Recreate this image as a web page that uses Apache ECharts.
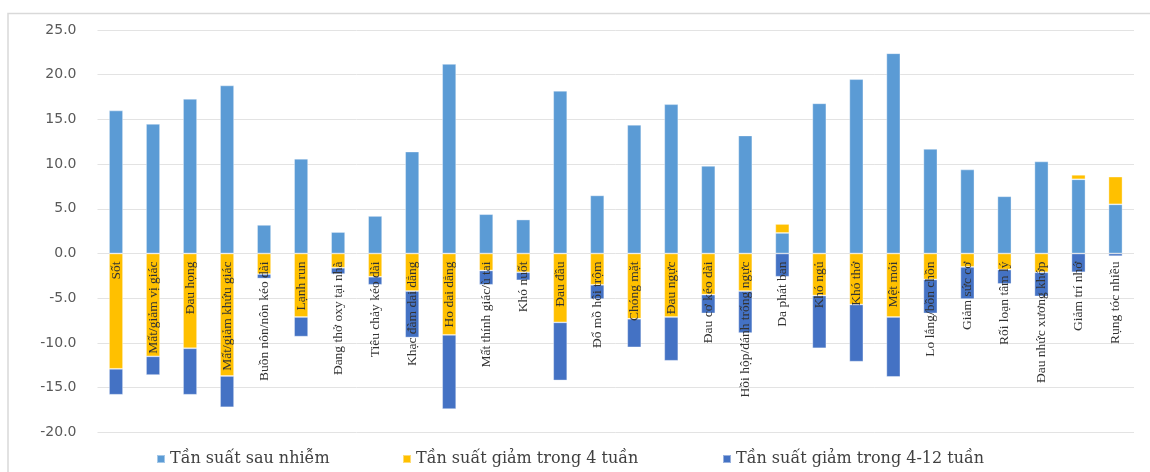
<!DOCTYPE html>
<html>
<head>
<meta charset="utf-8">
<script src="https://cdn.jsdelivr.net/npm/echarts@6/dist/echarts.min.js"></script>
<style>html,body{margin:0;padding:0;background:#fff;}#c{width:1150px;height:472px;}</style>
</head>
<body>
<div id="c"></div>
<script>
const categories = ["Sốt","Mất/giảm vị giác","Đau họng","Mất/giảm khứu giác","Buồn nôn/nôn kéo dài","Lạnh run","Đang thở oxy tại nhà","Tiêu chảy kéo dài","Khạc đàm dai dẳng","Ho dai dẳng","Mất thính giác/ù tai","Khó nuốt","Đau đầu","Đổ mồ hôi trộm","Chóng mặt","Đau ngực","Đau cơ kéo dài","Hồi hộp/đánh trống ngực","Da phát ban","Khó ngủ","Khó thở","Mệt mỏi","Lo lắng/bồn chồn","Giảm sức cơ","Rối loạn tâm lý","Đau nhức xương khớp","Giảm trí nhớ","Rụng tóc nhiều"];
const seriesNames = ["Tần suất sau nhiễm","Tần suất giảm trong 4 tuần","Tần suất giảm trong 4-12 tuần"];
const afterInfection = [16.0,14.5,17.3,18.8,3.2,10.6,2.4,4.2,11.4,21.2,4.4,3.8,18.2,6.5,14.4,16.7,9.8,13.2,2.3,16.8,19.5,22.4,11.7,9.4,6.4,10.3,8.3,5.5];
const drop4w = [-12.9,-11.5,-10.6,-13.7,-2.3,-7.1,-1.6,-2.6,-4.2,-9.1,-1.9,-2.1,-7.7,-3.5,-7.3,-7.1,-4.6,-4.2,1.0,-4.7,-5.7,-7.1,-2.9,-1.5,-1.8,-2.1,0.5,3.1];
const drop4to12w = [-2.9,-2.1,-5.2,-3.5,-0.5,-2.2,-0.7,-0.9,-5.2,-8.3,-1.6,-0.9,-6.5,-1.6,-3.2,-4.9,-2.1,-4.7,-2.6,-5.9,-6.4,-6.7,-3.8,-3.6,-1.6,-2.7,-2.1,-0.3];
const yTicks = {min:-20, max:25, interval:5};

const colors = ['#5b9bd5','#ffc000','#4472c4'];
const chart = echarts.init(document.getElementById('c'), null, {renderer:'canvas'});
const legendLefts = [156, 402, 722];
const legendText = {fontFamily:'DejaVu Serif', fontSize:16, color:'#404040'};
const gridTop = 30, gridBottom = 39.7, H = 472;
const plotH = H - gridTop - gridBottom;
const zeroOffset = -plotH * (0 - yTicks.min) / (yTicks.max - yTicks.min);
chart.setOption({
  backgroundColor:'#fff',
  animation:false,
  graphic:[{type:'rect', shape:{x:8,y:13.5,width:1200,height:500}, style:{fill:'none', stroke:'#d9d9d9', lineWidth:1.5}, silent:true}],
  grid:{left:97.5, right:16, top:gridTop, bottom:gridBottom, containLabel:false, outerBoundsMode:'none'},
  legend: seriesNames.map((n,i)=>({data:[n], left:legendLefts[i], top:451, itemWidth:8, itemHeight:8, icon:'rect', textStyle:legendText, padding:0})),
  xAxis:{type:'category', data:categories, position:'bottom', offset:zeroOffset, z:10,
    axisLine:{show:false, onZero:false},
    axisTick:{show:false},
    axisLabel:{rotate:90, interval:0, margin:8, fontFamily:'Liberation Serif', fontSize:13.5, color:'#333333'}
  },
  yAxis:{type:'value', min:yTicks.min, max:yTicks.max, interval:yTicks.interval,
    axisLine:{show:false}, axisTick:{show:false},
    axisLabel:{margin:21, fontFamily:'DejaVu Sans', fontSize:14, color:'#595959', formatter:v=>v.toFixed(1)},
    splitLine:{lineStyle:{color:'#e3e3e3', width:1}}
  },
  series:[
    {name:seriesNames[0], type:'bar', stack:'s', data:afterInfection, barWidth:14, itemStyle:{color:colors[0], borderColor:'rgba(255,255,255,0.45)', borderWidth:0.8}},
    {name:seriesNames[1], type:'bar', stack:'s', data:drop4w, barWidth:14, itemStyle:{color:colors[1], borderColor:'rgba(255,255,255,0.45)', borderWidth:0.8}},
    {name:seriesNames[2], type:'bar', stack:'s', data:drop4to12w, barWidth:14, itemStyle:{color:colors[2], borderColor:'rgba(255,255,255,0.45)', borderWidth:0.8}}
  ]
});
</script>
</body>
</html>
